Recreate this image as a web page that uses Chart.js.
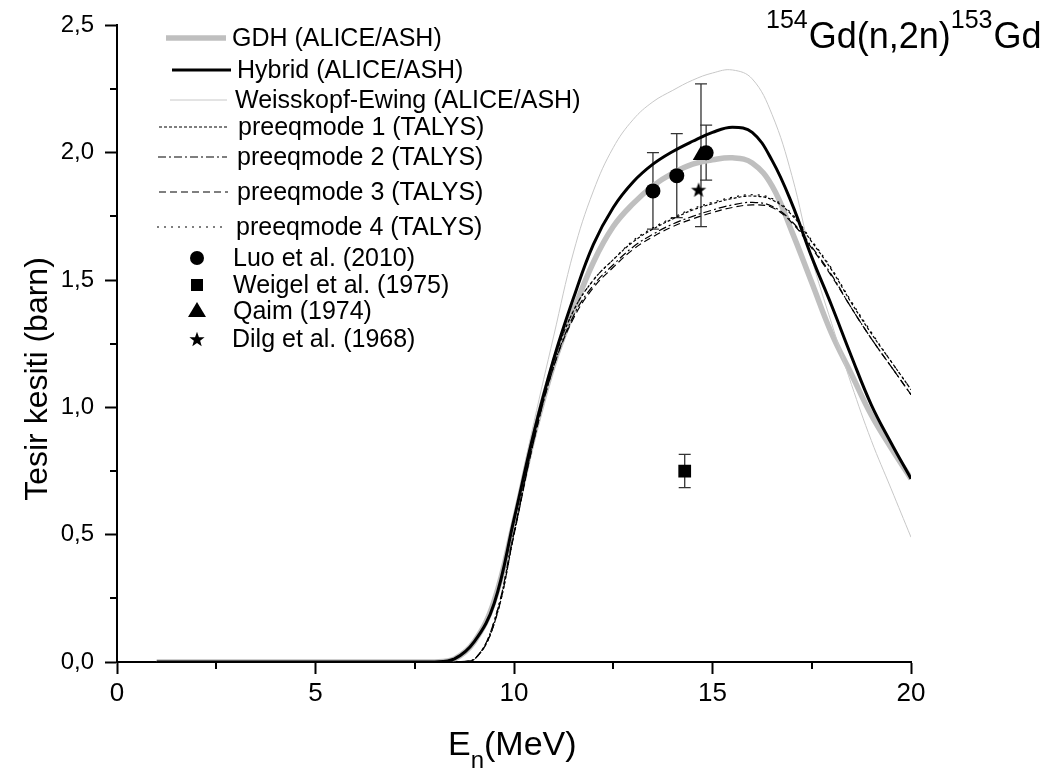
<!DOCTYPE html>
<html>
<head>
<meta charset="utf-8">
<script src="https://cdn.jsdelivr.net/npm/chart.js@4.4.1/dist/chart.umd.min.js"></script>
<style>
  html, body { margin: 0; padding: 0; background: #fff; }
  #wrap { width: 1048px; height: 775px; position: relative; }
</style>
</head>
<body>
<div id="wrap"><canvas id="xsChart"></canvas></div>
<script>
// Neutron energy grid (MeV) shared by all calculated curves
const energy = [1, 2, 3, 4, 5, 6, 7, 8, 8.5, 9, 9.5, 10, 10.5, 11, 11.5, 12, 12.5, 13, 13.5, 14, 14.5, 15, 15.5, 16, 16.5, 17, 17.5, 18, 18.5, 19, 19.5, 20];

// ALICE/ASH cross sections (barn)
const gdh = [0, 0, 0, 0, 0, 0, 0, 0, 0.012, 0.08, 0.24, 0.55, 0.89, 1.17, 1.38, 1.57, 1.71, 1.80, 1.87, 1.92, 1.955, 1.972, 1.98, 1.96, 1.87, 1.69, 1.49, 1.29, 1.13, 0.97, 0.84, 0.72];
const hybrid = [0, 0, 0, 0, 0, 0, 0, 0, 0.012, 0.08, 0.23, 0.56, 0.90, 1.19, 1.43, 1.64, 1.785, 1.885, 1.955, 2.005, 2.045, 2.08, 2.10, 2.08, 1.97, 1.80, 1.59, 1.40, 1.20, 1.01, 0.86, 0.72];
const weisskopf = [0, 0, 0, 0, 0, 0, 0, 0, 0.012, 0.08, 0.24, 0.58, 0.94, 1.28, 1.61, 1.85, 2.02, 2.13, 2.20, 2.245, 2.285, 2.313, 2.325, 2.29, 2.15, 1.91, 1.585, 1.33, 1.09, 0.87, 0.68, 0.49];

// TALYS cross sections (barn)
const preeq1 = [0, 0, 0, 0, 0, 0, 0, 0, 0, 0.01, 0.15, 0.50, 0.88, 1.18, 1.38, 1.50, 1.58, 1.65, 1.70, 1.74, 1.775, 1.80, 1.82, 1.83, 1.815, 1.755, 1.65, 1.54, 1.41, 1.29, 1.18, 1.07];
const preeq2 = [0, 0, 0, 0, 0, 0, 0, 0, 0, 0.01, 0.16, 0.51, 0.87, 1.16, 1.36, 1.48, 1.56, 1.63, 1.68, 1.72, 1.75, 1.775, 1.795, 1.805, 1.79, 1.73, 1.63, 1.52, 1.39, 1.27, 1.16, 1.05];
const preeq3 = [0, 0, 0, 0, 0, 0, 0, 0, 0, 0.01, 0.15, 0.50, 0.87, 1.16, 1.35, 1.47, 1.55, 1.62, 1.67, 1.71, 1.74, 1.765, 1.785, 1.795, 1.785, 1.725, 1.625, 1.515, 1.39, 1.27, 1.16, 1.05];
const preeq4 = [0, 0, 0, 0, 0, 0, 0, 0, 0, 0.01, 0.16, 0.51, 0.88, 1.18, 1.38, 1.50, 1.58, 1.655, 1.705, 1.745, 1.78, 1.805, 1.825, 1.835, 1.82, 1.76, 1.655, 1.545, 1.415, 1.295, 1.18, 1.07];

// Experimental data: energy, cross section, uncertainty
const luoE = [13.5, 14.1, 14.84];
const luoXs = [1.85, 1.91, 2.0];
const luoErr = [0.15, 0.165, 0.108];
const weigelE = [14.3];
const weigelXs = [0.75];
const weigelErr = [0.065];
const qaimE = [14.71];
const qaimXs = [1.99];
const qaimErr = [0.28];
const dilgE = [14.65];
const dilgXs = [1.855];

const xTicksMajor = [0, 5, 10, 15, 20];

const FONT = "'Liberation Sans', Arial, sans-serif";
const NARROW = "'Liberation Sans Narrow', 'Liberation Sans', Arial, sans-serif";

function toPoints(xs, ys) {
    return xs.map((x, i) => ({ x: x, y: ys[i] }));
}

// filled five-point star used as a point style
function makeStar(outer, inner) {
    const size = Math.ceil(outer * 2 + 2);
    const c = document.createElement("canvas");
    c.width = size;
    c.height = size;
    const g = c.getContext("2d");
    g.fillStyle = "#000";
    g.beginPath();
    for (let i = 0; i < 10; i++) {
        const r = i % 2 === 0 ? outer : inner;
        const a = -Math.PI / 2 + i * Math.PI / 5;
        const px = size / 2 + r * Math.cos(a);
        const py = size / 2 + r * Math.sin(a) + 0.8;
        if (i === 0) g.moveTo(px, py); else g.lineTo(px, py);
    }
    g.closePath();
    g.fill();
    return c;
}
const starImg = makeStar(8, 3.3);

function curve(label, ys, color, width, dash) {
    return {
        type: "line",
        label: label,
        data: toPoints(energy, ys),
        borderColor: color,
        borderWidth: width,
        borderDash: dash || [],
        pointRadius: 0,
        fill: false,
        tension: 0.4,
    };
}

function points(label, xs, ys, style, radius, errs) {
    return {
        type: "scatter",
        label: label,
        data: toPoints(xs, ys),
        errors: errs || null,
        pointStyle: style,
        pointRadius: radius,
        backgroundColor: "#000",
        borderColor: "#000",
        borderWidth: 0,
    };
}

const datasets = [
    points("Luo et al. (2010)", luoE, luoXs, "circle", 7.5, luoErr),
    points("Weigel et al. (1975)", weigelE, weigelXs, "rect", 9, weigelErr),
    points("Qaim (1974)", qaimE, qaimXs, "triangle", 9.5, qaimErr),
    points("Dilg et al. (1968)", dilgE, dilgXs, starImg, 8, null),
    curve("Hybrid (ALICE/ASH)", hybrid, "#000", 3),
    curve("preeqmode 1 (TALYS)", preeq1, "#000", 1.2, [3, 2]),
    curve("preeqmode 2 (TALYS)", preeq2, "#000", 1.2, [8, 3, 2, 3]),
    curve("preeqmode 3 (TALYS)", preeq3, "#000", 1.2, [7, 4]),
    curve("preeqmode 4 (TALYS)", preeq4, "#000", 1.2, [2, 5]),
    curve("Weisskopf-Ewing (ALICE/ASH)", weisskopf, "#c8c8c8", 1),
    curve("GDH (ALICE/ASH)", gdh, "#bfbfbf", 5.5),
];

// legend rows: label, sample line start/end, text x, row y
const legendRows = [
    ["GDH (ALICE/ASH)", 166, 226, 232, 38],
    ["Hybrid (ALICE/ASH)", 172, 231, 237, 70],
    ["Weisskopf-Ewing (ALICE/ASH)", 170, 227, 235, 100],
    ["preeqmode 1 (TALYS)", 159, 227, 238, 127],
    ["preeqmode 2 (TALYS)", 158, 227, 237, 157],
    ["preeqmode 3 (TALYS)", 159, 228, 237, 192],
    ["preeqmode 4 (TALYS)", 157, 222, 236, 227],
    ["Luo et al. (2010)", 197, 197, 233, 258],
    ["Weigel et al. (1975)", 197, 197, 233, 285],
    ["Qaim (1974)", 197, 197, 233, 311],
    ["Dilg et al. (1968)", 197, 197, 232, 339],
];

function drawMarker(ctx, style, x, y) {
    ctx.fillStyle = "#000";
    ctx.beginPath();
    if (style === "circle") {
        ctx.arc(x, y, 7, 0, Math.PI * 2);
        ctx.fill();
    } else if (style === "rect") {
        ctx.fillRect(x - 6, y - 6, 12, 12);
    } else if (style === "triangle") {
        ctx.moveTo(x, y - 9);
        ctx.lineTo(x + 9, y + 6);
        ctx.lineTo(x - 9, y + 6);
        ctx.closePath();
        ctx.fill();
    } else {
        ctx.drawImage(style, x - style.width / 2, y - style.height / 2);
    }
}

const errorBars = {
    id: "errorBars",
    beforeDatasetsDraw(chart) {
        const ctx = chart.ctx;
        const xs = chart.scales.x;
        const ys = chart.scales.y;
        ctx.save();
        ctx.strokeStyle = "#333";
        ctx.lineWidth = 1.3;
        chart.data.datasets.forEach((ds) => {
            if (!ds.errors) return;
            ds.data.forEach((p, i) => {
                const px = xs.getPixelForValue(p.x);
                const top = ys.getPixelForValue(p.y + ds.errors[i]);
                const bot = ys.getPixelForValue(p.y - ds.errors[i]);
                ctx.beginPath();
                ctx.moveTo(px, top);
                ctx.lineTo(px, bot);
                ctx.moveTo(px - 6, top);
                ctx.lineTo(px + 6, top);
                ctx.moveTo(px - 6, bot);
                ctx.lineTo(px + 6, bot);
                ctx.stroke();
            });
        });
        ctx.restore();
    },
};

const decorations = {
    id: "decorations",
    afterDraw(chart) {
        const ctx = chart.ctx;
        const xs = chart.scales.x;
        const ys = chart.scales.y;
        const area = chart.chartArea;
        ctx.save();

        // minor ticks
        ctx.strokeStyle = "#000";
        ctx.lineWidth = 2;
        ctx.beginPath();
        for (let v = 2.5; v < 20; v += 5) {
            const px = Math.round(xs.getPixelForValue(v));
            ctx.moveTo(px, area.bottom);
            ctx.lineTo(px, area.bottom + 7);
        }
        for (let v = 0.25; v < 2.5; v += 0.5) {
            const py = Math.round(ys.getPixelForValue(v));
            ctx.moveTo(area.left, py);
            ctx.lineTo(area.left - 7, py);
        }
        ctx.stroke();

        // legend
        ctx.textBaseline = "middle";
        ctx.textAlign = "left";
        ctx.font = "25px " + FONT;
        legendRows.forEach(([label, x0, x1, tx, y]) => {
            const ds = chart.data.datasets.find((d) => d.label === label);
            if (ds.type === "line") {
                ctx.save();
                ctx.strokeStyle = ds.borderColor;
                ctx.lineWidth = ds.borderWidth;
                ctx.setLineDash(ds.borderDash);
                ctx.beginPath();
                ctx.moveTo(x0, y);
                ctx.lineTo(x1, y);
                ctx.stroke();
                ctx.restore();
            } else {
                drawMarker(ctx, ds.pointStyle, x0, y);
            }
            ctx.fillStyle = "#000";
            ctx.fillText(label, tx, y + 1);
        });

        // reaction label
        ctx.textBaseline = "alphabetic";
        let x = 766;
        const parts = [["154", 25, 28], ["Gd(n,2n)", 36, 48], ["153", 25, 28], ["Gd", 36, 48]];
        parts.forEach(([t, size, base]) => {
            ctx.font = size + "px " + FONT;
            ctx.fillText(t, x, base);
            x += ctx.measureText(t).width + (size < 30 ? 1 : 0);
        });

        // x axis title with subscript
        ctx.font = "34px " + FONT;
        let tx = 448;
        ctx.fillText("E", tx, 755);
        tx += ctx.measureText("E").width;
        ctx.font = "24px " + FONT;
        ctx.fillText("n", tx, 768);
        tx += ctx.measureText("n").width;
        ctx.font = "34px " + FONT;
        ctx.fillText("(MeV)", tx, 755);

        // y axis title
        ctx.translate(38, 379);
        ctx.rotate(-Math.PI / 2);
        ctx.textAlign = "center";
        ctx.textBaseline = "middle";
        ctx.font = "32px " + FONT;
        ctx.fillText("Tesir kesiti (barn)", 0, 0);
        ctx.restore();
    },
};

const ctx = document.getElementById("xsChart").getContext("2d");
const xsChart = new Chart(ctx, {
    data: { datasets: datasets },
    options: {
        responsive: true,
        maintainAspectRatio: false,
        animation: false,
        devicePixelRatio: 1,
        layout: { padding: { top: 21, right: 137, left: 0, bottom: 0 } },
        plugins: {
            legend: { display: false },
            tooltip: { enabled: false },
        },
        scales: {
            x: {
                type: "linear",
                min: 0,
                max: 20,
                afterFit: (s) => { s.height = 113; },
                afterBuildTicks: (s) => { s.ticks = xTicksMajor.map((v) => ({ value: v })); },
                grid: { drawOnChartArea: false, drawTicks: true, tickLength: 12, tickWidth: 2, tickColor: "#000" },
                border: { display: true, color: "#000", width: 2 },
                ticks: { color: "#000", font: { family: NARROW, size: 26 }, padding: 4, maxRotation: 0 },
            },
            y: {
                type: "linear",
                min: 0,
                max: 2.5,
                afterFit: (s) => { s.width = 117; },
                grid: { drawOnChartArea: false, drawTicks: true, tickLength: 12, tickWidth: 2, tickColor: "#000" },
                border: { display: true, color: "#000", width: 2 },
                ticks: {
                    stepSize: 0.5,
                    color: "#000",
                    font: { family: FONT, size: 24 },
                    padding: 11,
                    callback: (v) => v.toFixed(1).replace(".", ","),
                },
            },
        },
    },
    plugins: [errorBars, decorations],
});
</script>
</body>
</html>
